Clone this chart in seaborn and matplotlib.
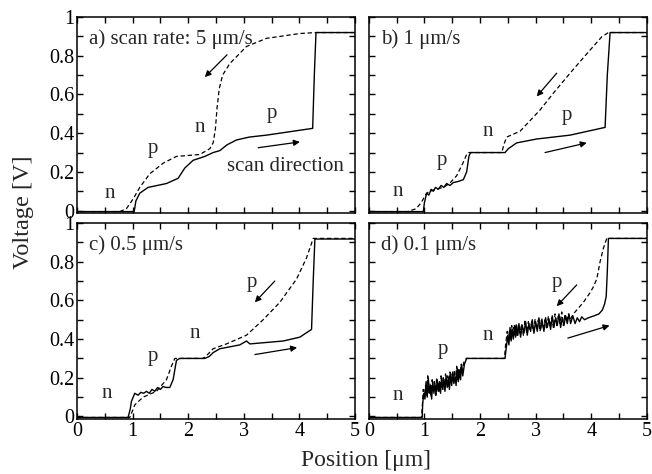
import numpy as np
import pandas as pd
import matplotlib
matplotlib.use("Agg")
import matplotlib.pyplot as plt
import seaborn as sns

# ---- data (position in um, voltage in V) ----
# a) 5 um/s
A_FWD_X = [0, 1.03, 1.06, 1.13, 1.28, 1.61, 1.82, 1.94, 2.09, 2.30, 2.45, 2.57, 2.70, 2.87,
           3.10, 3.41, 4.24, 4.27, 4.30, 5]
A_FWD_Y = [-0.005, -0.005, 0.05, 0.09, 0.12, 0.14, 0.167, 0.22, 0.26, 0.28, 0.30, 0.31, 0.34,
           0.365, 0.38, 0.39, 0.425, 0.70, 0.92, 0.92]
A_REV_X = [0, 0.77, 0.89, 1.01, 1.13, 1.31, 1.55, 1.79, 2.21, 2.39, 2.45, 2.49, 2.52, 2.56,
           2.62, 2.75, 3.05, 3.41, 4.01, 4.30, 5]
A_REV_Y = [-0.005, -0.005, 0.01, 0.06, 0.12, 0.19, 0.245, 0.28, 0.29, 0.32, 0.35, 0.42, 0.53,
           0.63, 0.70, 0.76, 0.848, 0.89, 0.915, 0.92, 0.92]

# b) 1 um/s
B_FWD_X = [0, 0.98, 1.00, 1.04, 1.08, 1.12, 1.16, 1.20, 1.25, 1.30, 1.35, 1.40, 1.46, 1.52,
           1.60, 1.70, 1.76, 1.80, 1.83, 2.45, 2.51, 2.66, 3.02, 3.62, 4.25, 4.29, 4.34, 5]
B_FWD_Y = [-0.005, -0.005, 0.04, 0.09, 0.08, 0.11, 0.10, 0.12, 0.11, 0.13, 0.12, 0.14, 0.13,
           0.145, 0.15, 0.16, 0.20, 0.28, 0.30, 0.30, 0.32, 0.35, 0.37, 0.39, 0.43, 0.70,
           0.92, 0.92]
B_REV_X = [0, 0.70, 0.85, 0.94, 1.04, 1.10, 1.20, 1.34, 1.45, 1.58, 1.70, 1.76, 1.79, 2.39,
           2.44, 2.48, 2.72, 3.08, 3.32, 3.62, 3.92, 4.19, 4.31, 5]
B_REV_Y = [-0.005, -0.005, 0.01, 0.04, 0.09, 0.10, 0.11, 0.12, 0.14, 0.18, 0.25, 0.29, 0.30,
           0.30, 0.35, 0.38, 0.41, 0.52, 0.607, 0.71, 0.81, 0.898, 0.92, 0.92]

# c) 0.5 um/s
C_FWD_X = [0, 0.92, 0.96, 0.98, 1.04, 1.10, 1.15, 1.20, 1.25, 1.30, 1.35, 1.40, 1.45, 1.50,
           1.55, 1.60, 1.67, 1.73, 1.79, 1.85, 2.30, 2.38, 2.45, 2.57, 2.93, 3.05, 3.11,
           3.71, 4.01, 4.22, 4.25, 4.28, 5]
C_FWD_Y = [-0.005, -0.005, 0.04, 0.078, 0.12, 0.11, 0.125, 0.12, 0.13, 0.12, 0.14, 0.13,
           0.15, 0.14, 0.155, 0.15, 0.15, 0.19, 0.29, 0.30, 0.30, 0.31, 0.33, 0.35, 0.37,
           0.39, 0.375, 0.39, 0.41, 0.45, 0.70, 0.917, 0.917]
C_REV_X = [0, 0.95, 1.00, 1.04, 1.19, 1.43, 1.61, 1.70, 1.76, 2.27, 2.35, 2.45, 2.69, 3.05,
           3.35, 3.65, 3.95, 4.13, 4.25, 5]
C_REV_Y = [-0.005, -0.005, 0.03, 0.06, 0.10, 0.13, 0.19, 0.26, 0.30, 0.30, 0.32, 0.35,
           0.375, 0.42, 0.50, 0.59, 0.71, 0.82, 0.92, 0.92]

# d) 0.1 um/s (noisy)
D_FWD_X = [0, 0.96, 0.97, 0.99, 1.01, 1.03, 1.05, 1.07, 1.09, 1.11, 1.13, 1.15, 1.17, 1.19,
           1.21, 1.23, 1.25, 1.27, 1.29, 1.31, 1.33, 1.35, 1.37, 1.39, 1.41, 1.43, 1.45,
           1.47, 1.49, 1.51, 1.53, 1.55, 1.57, 1.59, 1.61, 1.63, 1.65, 1.67, 1.69, 1.72,
           1.76, 2.45, 2.47, 2.50, 2.52, 2.54, 2.56, 2.58, 2.60, 2.62, 2.64, 2.66, 2.68,
           2.70, 2.73, 2.76, 2.79, 2.82, 2.85, 2.88, 2.91, 2.94, 2.97, 3.00, 3.03, 3.06,
           3.09, 3.12, 3.15, 3.18, 3.21, 3.24, 3.27, 3.30, 3.33, 3.36, 3.39, 3.42, 3.45,
           3.48, 3.51, 3.54, 3.57, 3.60, 3.63, 3.67, 3.71, 3.75, 3.79, 3.83, 3.88, 3.95,
           4.05, 4.14, 4.20, 4.24, 4.27, 4.29, 4.31, 5]
D_FWD_Y = [-0.005, -0.005, 0.07, 0.12, 0.09, 0.18, 0.10, 0.20, 0.12, 0.16, 0.09, 0.18,
           0.12, 0.17, 0.11, 0.19, 0.13, 0.18, 0.12, 0.20, 0.14, 0.19, 0.13, 0.21, 0.15,
           0.20, 0.14, 0.22, 0.16, 0.23, 0.17, 0.21, 0.16, 0.25, 0.18, 0.24, 0.19, 0.27,
           0.21, 0.27, 0.30, 0.30, 0.35, 0.42, 0.37, 0.46, 0.39, 0.45, 0.40, 0.47, 0.41,
           0.46, 0.42, 0.48, 0.41, 0.47, 0.43, 0.49, 0.42, 0.48, 0.44, 0.50, 0.43, 0.49,
           0.44, 0.51, 0.45, 0.49, 0.44, 0.51, 0.46, 0.50, 0.45, 0.52, 0.46, 0.51, 0.47,
           0.53, 0.46, 0.51, 0.47, 0.52, 0.48, 0.53, 0.48, 0.52, 0.48, 0.51, 0.49, 0.515,
           0.50, 0.51, 0.52, 0.53, 0.55, 0.58, 0.62, 0.75, 0.92, 0.92]
D_REV_X = [0, 0.95, 0.97, 0.98, 1.00, 1.02, 1.04, 1.06, 1.08, 1.10, 1.12, 1.14, 1.16, 1.18,
           1.20, 1.22, 1.24, 1.26, 1.28, 1.30, 1.32, 1.34, 1.36, 1.38, 1.40, 1.42, 1.44,
           1.46, 1.48, 1.50, 1.52, 1.54, 1.56, 1.58, 1.60, 1.62, 1.64, 1.66, 1.68, 1.71,
           1.75, 2.44, 2.46, 2.49, 2.51, 2.53, 2.55, 2.57, 2.59, 2.61, 2.63, 2.65, 2.67,
           2.69, 2.72, 2.75, 2.78, 2.81, 2.84, 2.87, 2.90, 2.93, 2.96, 2.99, 3.02, 3.05,
           3.08, 3.11, 3.14, 3.17, 3.20, 3.23, 3.26, 3.29, 3.32, 3.35, 3.38, 3.41, 3.44,
           3.47, 3.50, 3.53, 3.56, 3.59, 3.62, 3.68, 3.74, 3.80, 3.86, 3.92, 3.98, 4.04,
           4.10, 4.16, 4.22, 4.28, 5]
D_REV_Y = [-0.005, -0.005, 0.09, 0.14, 0.10, 0.16, 0.11, 0.21, 0.12, 0.17, 0.10, 0.19,
           0.13, 0.18, 0.11, 0.20, 0.14, 0.17, 0.13, 0.21, 0.15, 0.20, 0.14, 0.22, 0.16,
           0.21, 0.15, 0.23, 0.17, 0.22, 0.18, 0.24, 0.17, 0.26, 0.19, 0.25, 0.20, 0.27,
           0.23, 0.28, 0.30, 0.30, 0.37, 0.44, 0.38, 0.45, 0.40, 0.47, 0.41, 0.46, 0.42,
           0.48, 0.41, 0.47, 0.43, 0.48, 0.42, 0.50, 0.43, 0.49, 0.45, 0.49, 0.44, 0.50,
           0.45, 0.50, 0.44, 0.51, 0.46, 0.50, 0.45, 0.52, 0.47, 0.51, 0.46, 0.53, 0.47,
           0.52, 0.48, 0.54, 0.47, 0.53, 0.49, 0.53, 0.50, 0.53, 0.55, 0.57, 0.59, 0.615,
           0.64, 0.67, 0.71, 0.80, 0.87, 0.92, 0.92]

PANEL_TITLES = ["a) scan rate: 5 \u03bcm/s", "b) 1 \u03bcm/s", "c) 0.5 \u03bcm/s",
                "d) 0.1 \u03bcm/s"]
X_TICKS = [0, 1, 2, 3, 4, 5]
Y_TICKS = [0, 0.2, 0.4, 0.6, 0.8, 1]
Y_TICK_LABELS = ["0", "0.2", "0.4", "0.6", "0.8", "1"]

curves = [(A_FWD_X, A_FWD_Y, A_REV_X, A_REV_Y),
          (B_FWD_X, B_FWD_Y, B_REV_X, B_REV_Y),
          (C_FWD_X, C_FWD_Y, C_REV_X, C_REV_Y),
          (D_FWD_X, D_FWD_Y, D_REV_X, D_REV_Y)]

# labels (text, x, y) and arrows (start, end) per panel, in data coords
labels = [
    [("n", 0.59, 0.09), ("p", 1.37, 0.32), ("n", 2.21, 0.43), ("p", 3.50, 0.50),
     ("scan direction", 2.70, 0.23)],
    [("n", 0.52, 0.10), ("p", 1.31, 0.26), ("n", 2.14, 0.41), ("p", 3.56, 0.49)],
    [("n", 0.54, 0.12), ("p", 1.37, 0.31), ("n", 2.12, 0.43), ("p", 3.14, 0.69)],
    [("n", 0.52, 0.11), ("p", 1.33, 0.345), ("n", 2.14, 0.42), ("p", 3.38, 0.69)],
]
arrows = [
    [((3.26, 0.325), (4.01, 0.355)), ((2.70, 0.805), (2.30, 0.69))],
    [((3.17, 0.30), (3.92, 0.35)), ((3.38, 0.71), (3.02, 0.59))],
    [((3.20, 0.32), (3.96, 0.356)), ((3.56, 0.70), (3.20, 0.59))],
    [((3.58, 0.405), (4.33, 0.47)), ((3.74, 0.68), (3.38, 0.57))],
]

sns.set_style("ticks")
plt.rcParams["font.family"] = ["Liberation Serif", "DejaVu Serif"]

fig, axes = plt.subplots(2, 2, figsize=(6.52, 4.74), dpi=100, sharex=True, sharey=True)
fig.subplots_adjust(left=0.118, right=0.992, top=0.964, bottom=0.116,
                    wspace=0.05, hspace=0.05)

for i, ax in enumerate(axes.flat):
    fx, fy, rx, ry = curves[i]
    fwd = pd.DataFrame({"x": fx, "y": fy})
    rev = pd.DataFrame({"x": rx, "y": ry})
    sns.lineplot(data=rev, x="x", y="y", ax=ax, color="black", lw=0.9,
                 linestyle=(0, (3.5, 2.2)), sort=False, estimator=None)
    sns.lineplot(data=fwd, x="x", y="y", ax=ax, color="black", lw=1.0,
                 sort=False, estimator=None)

    ax.set_xlim(0, 5)
    ax.set_ylim(-0.013, 1)
    ax.set_xticks(X_TICKS)
    ax.set_xticklabels([str(t) for t in X_TICKS])
    ax.set_yticks(Y_TICKS)
    ax.set_yticklabels(Y_TICK_LABELS)
    ax.set_xticks(np.arange(0, 5.01, 0.5), minor=True)
    ax.set_yticks(np.arange(0, 1.01, 0.1), minor=True)
    ax.tick_params(which="both", direction="in", top=True, right=True,
                   length=4, width=1, labelsize=14.5, pad=2, colors="black")
    ax.set_xlabel("")
    ax.set_ylabel("")
    for sp in ax.spines.values():
        sp.set_linewidth(1.1)
        sp.set_color("black")

    ax.text(0.045, 0.885, PANEL_TITLES[i], transform=ax.transAxes, fontsize=15,
            ha="left", va="center")
    for txt, lx, ly in labels[i]:
        ax.text(lx, ly, txt, fontsize=15,
                ha="left" if len(txt) > 1 else "center", va="center")
    for (x0, y0), (x1, y1) in arrows[i]:
        ax.annotate("", xy=(x1, y1), xytext=(x0, y0),
                    arrowprops=dict(arrowstyle="-|>", color="black", lw=0.9,
                                    mutation_scale=9, shrinkA=0, shrinkB=0))

for ax in axes[0, :]:
    ax.tick_params(labelbottom=False)
for ax in axes[:, 1]:
    ax.tick_params(labelleft=False)

fig.text(0.036, 0.552, "Voltage [V]", rotation=90, ha="center", va="center", fontsize=17.5)
fig.text(0.561, 0.028, "Position [\u03bcm]", ha="center", va="center", fontsize=17)

fig.savefig("out.png", dpi=100)
